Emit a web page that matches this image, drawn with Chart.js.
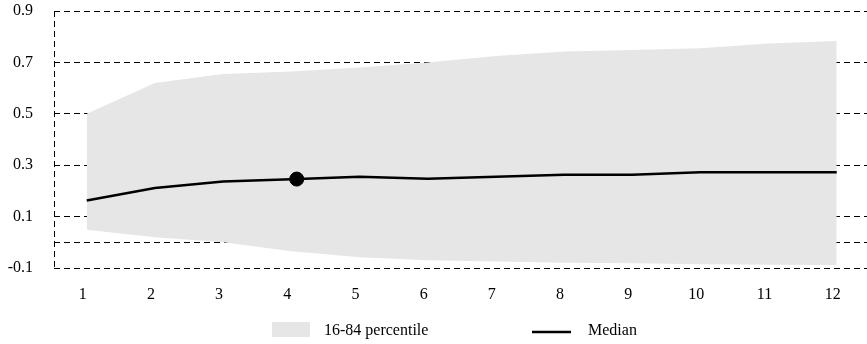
<!DOCTYPE html>
<html>
<head>
<meta charset="utf-8">
<script src="https://cdn.jsdelivr.net/npm/chart.js@4"></script>
<style>
  html, body { margin: 0; padding: 0; background: #fff; overflow: hidden; }
  canvas { display: block; }
</style>
</head>
<body>
<canvas id="irfchart" width="867" height="344"></canvas>
<script>
// horizon (x) and the series
var horizons = [1, 2, 3, 4, 5, 6, 7, 8, 9, 10, 11, 12];
var upper84 = [0.50, 0.62, 0.655, 0.665, 0.68, 0.70, 0.725, 0.742, 0.748, 0.755, 0.774, 0.783];
var lower16 = [0.049, 0.02, 0.0, -0.035, -0.058, -0.07, -0.075, -0.08, -0.082, -0.085, -0.087, -0.088];
var median = [0.163, 0.211, 0.237, 0.245, 0.255, 0.247, 0.255, 0.263, 0.263, 0.273, 0.273, 0.273];
var markerPoint = [{ x: 4.08, y: 0.246 }];
var yTickValues = [-0.1, 0, 0.1, 0.3, 0.5, 0.7, 0.9];
var yTickLabels = ['-0.1', '', '0.1', '0.3', '0.5', '0.7', '0.9'];
var legendLabels = ['16-84 percentile', 'Median'];

var FONT = '"Liberation Serif", "Times New Roman", serif';

function pts(vals) {
  return horizons.map(function (h, i) { return { x: h, y: vals[i] }; });
}

// dashed left frame line (Chart.js border has no dash option)
var leftFrame = {
  id: 'leftFrame',
  beforeDatasetsDraw: function (chart) {
    var c = chart.ctx, a = chart.chartArea;
    c.save();
    c.strokeStyle = '#000';
    c.lineWidth = 1;
    c.setLineDash([6, 4]);
    c.beginPath();
    c.moveTo(a.left + 0.5, a.top);
    c.lineTo(a.left + 0.5, a.bottom);
    c.stroke();
    c.restore();
  }
};

// legend drawn below the axis
var bottomLegend = {
  id: 'bottomLegend',
  afterDraw: function (chart) {
    var c = chart.ctx;
    c.save();
    c.fillStyle = '#e6e6e6';
    c.fillRect(272, 322, 38, 15);
    c.strokeStyle = '#000';
    c.lineWidth = 2.5;
    c.beginPath();
    c.moveTo(532, 332);
    c.lineTo(571, 332);
    c.stroke();
    c.fillStyle = '#000';
    c.font = '16px ' + FONT;
    c.textBaseline = 'alphabetic';
    c.fillText(legendLabels[0], 324, 335);
    c.fillText(legendLabels[1], 588, 335);
    c.restore();
  }
};

function noPad(scale) {
  scale.paddingTop = 0;
  scale.paddingBottom = 0;
  scale.paddingLeft = 0;
  scale.paddingRight = 0;
}

var ctx = document.getElementById('irfchart').getContext('2d');
var irfChart = new Chart(ctx, {
  type: 'line',
  data: {
    datasets: [{
      label: 'lower',
      data: pts(lower16),
      borderWidth: 0,
      pointRadius: 0,
      fill: false,
      order: 3
    }, {
      label: legendLabels[0],
      data: pts(upper84),
      borderWidth: 0,
      pointRadius: 0,
      backgroundColor: '#e6e6e6',
      fill: '-1',
      order: 2
    }, {
      label: legendLabels[1],
      data: pts(median),
      borderColor: '#000',
      borderWidth: 2.5,
      pointRadius: 0,
      fill: false,
      tension: 0,
      order: 1
    }, {
      label: 'marker',
      type: 'scatter',
      data: markerPoint,
      pointRadius: 7,
      backgroundColor: '#000',
      borderColor: '#000',
      order: 0
    }]
  },
  options: {
    responsive: false,
    animation: false,
    layout: { autoPadding: false, padding: { top: 11, right: 0, left: 0, bottom: 0 } },
    scales: {
      x: {
        type: 'linear',
        min: 0.52,
        max: 12.444,
        afterBuildTicks: function (scale) {
          scale.ticks = horizons.map(function (h) { return { value: h }; });
        },
        afterFit: function (scale) { scale.height = 76; noPad(scale); },
        grid: { display: false, drawTicks: false },
        border: { display: false },
        ticks: {
          color: '#000',
          font: { family: FONT, size: 16 },
          padding: 17,
          labelOffset: -4,
          maxRotation: 0,
          autoSkip: false
        }
      },
      y: {
        min: -0.1,
        max: 0.9,
        afterBuildTicks: function (scale) {
          scale.ticks = yTickValues.map(function (v) { return { value: v }; });
        },
        afterFit: function (scale) { scale.width = 54; noPad(scale); },
        grid: { color: '#000', lineWidth: 1, drawTicks: false },
        border: { display: false, dash: [6, 4] },
        ticks: {
          color: '#000',
          font: { family: FONT, size: 16 },
          padding: 21,
          callback: function (value, index) { return yTickLabels[index]; }
        }
      }
    },
    plugins: {
      legend: { display: false },
      tooltip: { enabled: false }
    }
  },
  plugins: [leftFrame, bottomLegend]
});
</script>
</body>
</html>
